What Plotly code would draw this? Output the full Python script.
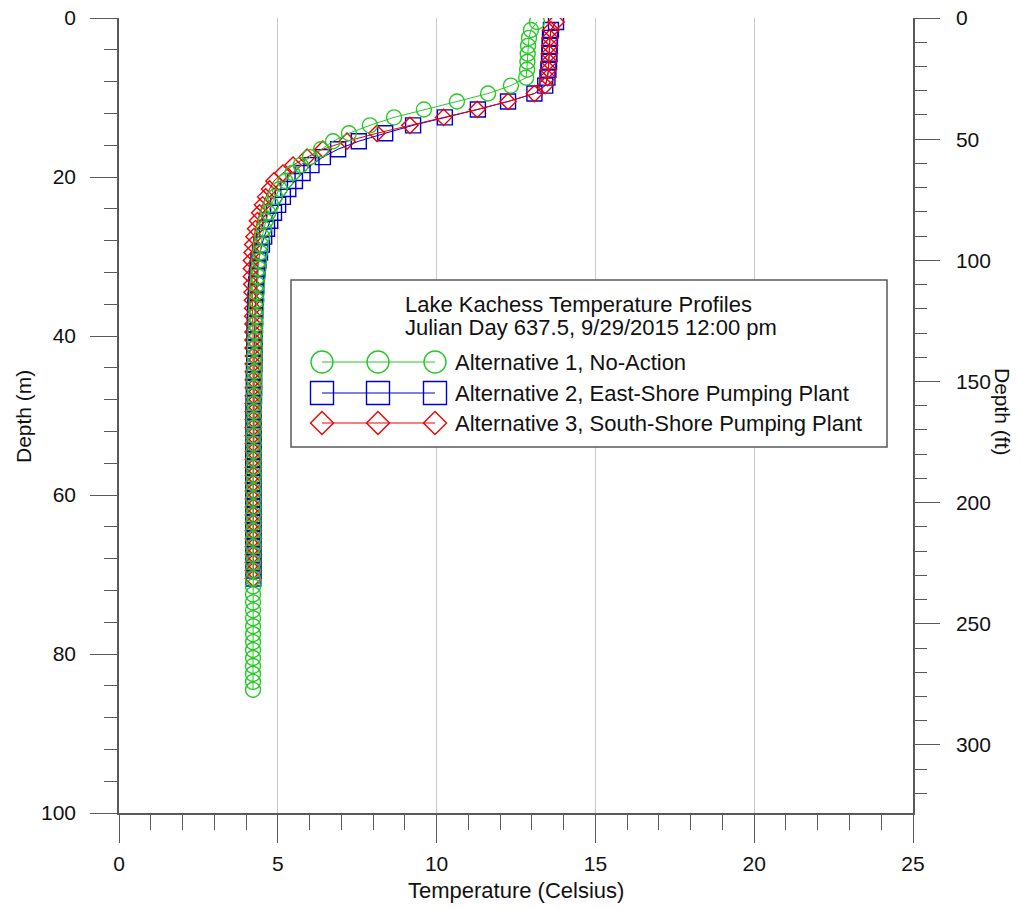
import plotly.graph_objects as go

# Depth of each model layer (m)
depth_m = [0.5, 1.5, 2.5, 3.5, 4.5, 5.5, 6.5, 7.5, 8.5, 9.5,
           10.5, 11.5, 12.5, 13.5, 14.5, 15.5, 16.5, 17.5, 18.5, 19.5,
           20.5, 21.5, 22.5, 23.5, 24.5, 25.5, 26.5, 27.5, 28.5, 29.5,
           30.5, 31.5, 32.5, 33.5, 34.5, 35.5, 36.5, 37.5, 38.5, 39.5,
           40.5, 41.5, 42.5, 43.5, 44.5, 45.5, 46.5, 47.5, 48.5, 49.5,
           50.5, 51.5, 52.5, 53.5, 54.5, 55.5, 56.5, 57.5, 58.5, 59.5,
           60.5, 61.5, 62.5, 63.5, 64.5, 65.5, 66.5, 67.5, 68.5, 69.5,
           70.5, 71.5, 72.5, 73.5, 74.5, 75.5, 76.5, 77.5, 78.5, 79.5,
           80.5, 81.5, 82.5, 83.5, 84.5]

# Alternative 1, No-Action (deg C)
temp_alt1 = [13.16, 12.97, 12.91, 12.88, 12.87, 12.86, 12.85, 12.82, 12.34, 11.62,
             10.64, 9.60, 8.66, 7.90, 7.24, 6.74, 6.36, 6.01, 5.72, 5.46,
             5.24, 5.06, 4.91, 4.79, 4.70, 4.62, 4.56, 4.51, 4.47, 4.44,
             4.41, 4.39, 4.37, 4.35, 4.34, 4.33, 4.32, 4.31, 4.30, 4.29,
             4.28, 4.28, 4.27, 4.27, 4.26, 4.26, 4.26, 4.25, 4.25, 4.25,
             4.25, 4.25, 4.24, 4.24, 4.24, 4.24, 4.24, 4.24, 4.23, 4.23,
             4.23, 4.23, 4.23, 4.23, 4.23, 4.23, 4.23, 4.22, 4.22, 4.22,
             4.22, 4.22, 4.22, 4.22, 4.22, 4.22, 4.22, 4.22, 4.22, 4.22,
             4.22, 4.22, 4.22, 4.22, 4.22]

# Alternative 2, East-Shore Pumping Plant (deg C)
temp_alt2 = [13.76, 13.60, 13.57, 13.56, 13.55, 13.54, 13.52, 13.49, 13.42, 13.08,
             12.25, 11.30, 10.26, 9.26, 8.38, 7.55, 6.90, 6.42, 6.06, 5.78,
             5.54, 5.33, 5.16, 5.01, 4.88, 4.76, 4.66, 4.57, 4.50, 4.44,
             4.39, 4.36, 4.34, 4.32, 4.31, 4.30, 4.29, 4.28, 4.28, 4.27,
             4.27, 4.26, 4.26, 4.26, 4.25, 4.25, 4.25, 4.25, 4.24, 4.24,
             4.24, 4.24, 4.24, 4.24, 4.23, 4.23, 4.23, 4.23, 4.23, 4.23,
             4.23, 4.23, 4.23, 4.23, 4.23, 4.23, 4.23, 4.23, 4.23, 4.23,
             4.23]

# Alternative 3, South-Shore Pumping Plant (deg C)
temp_alt3 = [13.76, 13.60, 13.57, 13.56, 13.55, 13.54, 13.52, 13.49, 13.42, 13.08,
             12.25, 11.28, 10.22, 9.16, 8.12, 7.18, 6.42, 5.92, 5.48, 5.16,
             4.88, 4.74, 4.62, 4.52, 4.43, 4.36, 4.30, 4.25, 4.21, 4.19,
             4.17, 4.17, 4.17, 4.18, 4.19, 4.20, 4.21, 4.21, 4.22, 4.22,
             4.22, 4.22, 4.23, 4.23, 4.23, 4.23, 4.23, 4.23, 4.23, 4.23,
             4.23, 4.23, 4.23, 4.23, 4.23, 4.23, 4.23, 4.23, 4.23, 4.23,
             4.23, 4.23, 4.23, 4.23, 4.23, 4.23, 4.23, 4.23, 4.23, 4.23,
             4.23]

series_names = ["Alternative 1, No-Action",
                "Alternative 2, East-Shore Pumping Plant",
                "Alternative 3, South-Shore Pumping Plant"]
legend_title = ["Lake Kachess Temperature Profiles",
                "Julian Day 637.5, 9/29/2015 12:00 pm"]

M_TO_FT = 1 / 0.3048
X_RANGE = [0, 25]
Y_RANGE = [100, 0]
FONT = "Liberation Sans, Arial, sans-serif"
AXIS_COLOR = "#5a5a5a"
TEXT_COLOR = "#111111"
GREEN = "rgb(40,200,40)"
BLUE = "rgb(0,0,210)"
RED = "rgb(240,0,0)"

# figure geometry (pixels)
W, H = 1021, 909
PL, PR, PT, PB = 119, 913, 18, 813


def paper_x(px):
    return (px - PL) / (PR - PL)


def paper_y(py):
    return (PB - py) / (PB - PT)


def data_x(px):
    return X_RANGE[0] + paper_x(px) * (X_RANGE[1] - X_RANGE[0])


def data_y(py):
    return Y_RANGE[0] + paper_y(py) * (Y_RANGE[1] - Y_RANGE[0])


fig = go.Figure()

# temperature profiles
styles = [
    (temp_alt2, BLUE, "square-open", 15, series_names[1]),
    (temp_alt3, RED, "diamond-open", 12.5, series_names[2]),
    (temp_alt1, GREEN, "circle-open", 15, series_names[0]),
]
for temps, color, symbol, size, name in styles:
    fig.add_trace(go.Scatter(
        x=temps, y=depth_m[:len(temps)], mode="lines+markers", name=name,
        line=dict(color=color, width=1),
        marker=dict(symbol=symbol, size=size, color=color,
                    line=dict(color=color, width=1.4)),
        showlegend=False, xaxis="x", yaxis="y"))

# empty trace so the feet axis is drawn
fig.add_trace(go.Scatter(x=[None], y=[None], xaxis="x", yaxis="y2",
                         showlegend=False, hoverinfo="skip"))

# legend block: sample glyphs on a pixel-scaled overlay axis pair
row_y = [362, 393, 423]
sample_x = [322, 378, 435]
legend_styles = [(GREEN, "circle-open", 22),
                 (BLUE, "square-open", 23),
                 (RED, "diamond-open", 17.7)]
for (color, symbol, size), yy in zip(legend_styles, row_y):
    fig.add_trace(go.Scatter(
        x=sample_x, y=[yy] * len(sample_x), mode="lines+markers",
        line=dict(color=color, width=1),
        marker=dict(symbol=symbol, size=size, color=color,
                    line=dict(color=color, width=1.4)),
        showlegend=False, hoverinfo="skip", xaxis="x3", yaxis="y3"))

# legend frame, above the gridlines but below the glyphs
fig.add_shape(type="rect", xref="x", yref="y",
              x0=data_x(291), x1=data_x(887), y0=data_y(280), y1=data_y(447),
              line=dict(color=AXIS_COLOR, width=1.5), fillcolor="white",
              layer="between")

annotations = []
for text, yy in zip(legend_title, [304, 327]):
    annotations.append(dict(text=text, xref="paper", yref="paper",
                            x=paper_x(403), y=paper_y(yy),
                            xanchor="left", yanchor="middle", showarrow=False,
                            font=dict(family=FONT, size=22, color=TEXT_COLOR)))
for text, yy in zip(series_names, row_y):
    annotations.append(dict(text=text, xref="paper", yref="paper",
                            x=paper_x(453), y=paper_y(yy),
                            xanchor="left", yanchor="middle", showarrow=False,
                            font=dict(family=FONT, size=22, color=TEXT_COLOR)))

# axis titles
annotations.append(dict(text="Depth (m)", xref="paper", yref="paper",
                        x=paper_x(23), y=paper_y(417), textangle=-90,
                        showarrow=False, xanchor="center", yanchor="middle",
                        font=dict(family=FONT, size=21, color=TEXT_COLOR)))
annotations.append(dict(text="Depth (ft)", xref="paper", yref="paper",
                        x=paper_x(1003), y=paper_y(412), textangle=90,
                        showarrow=False, xanchor="center", yanchor="middle",
                        font=dict(family=FONT, size=21, color=TEXT_COLOR)))
annotations.append(dict(text="Temperature (Celsius)", xref="paper", yref="paper",
                        x=paper_x(516), y=paper_y(890),
                        showarrow=False, xanchor="center", yanchor="middle",
                        font=dict(family=FONT, size=22, color=TEXT_COLOR)))

tick_font = dict(family=FONT, size=21, color=TEXT_COLOR)

fig.update_layout(
    width=W, height=H,
    margin=dict(l=PL, r=W - PR, t=PT, b=H - PB, pad=0, autoexpand=False),
    paper_bgcolor="white", plot_bgcolor="white",
    showlegend=False,
    annotations=annotations,
    xaxis=dict(range=X_RANGE, dtick=5, tick0=0, ticks="outside", ticklen=28,
               tickwidth=1.3, tickcolor=AXIS_COLOR, showline=True,
               linecolor=AXIS_COLOR, linewidth=1.5, showgrid=True,
               gridcolor="#c9c9c9", gridwidth=1, zeroline=False,
               tickfont=tick_font, ticklabelstandoff=3, automargin=False,
               minor=dict(dtick=1, tick0=0, ticks="outside", ticklen=15,
                          tickwidth=1.3, tickcolor=AXIS_COLOR, showgrid=False)),
    yaxis=dict(range=Y_RANGE, dtick=20, tick0=0, ticks="outside", ticklen=27,
               tickwidth=1.3, tickcolor=AXIS_COLOR, showline=True,
               linecolor=AXIS_COLOR, linewidth=1.5, showgrid=False,
               zeroline=False, tickfont=tick_font, ticklabelstandoff=10,
               automargin=False,
               minor=dict(dtick=4, tick0=0, ticks="outside", ticklen=13,
                          tickwidth=1.3, tickcolor=AXIS_COLOR, showgrid=False)),
    yaxis2=dict(range=[Y_RANGE[0] * M_TO_FT, Y_RANGE[1] * M_TO_FT],
                overlaying="y", side="right",
                anchor="x", dtick=50, tick0=0, ticks="outside", ticklen=25,
                tickwidth=1.3, tickcolor=AXIS_COLOR, showline=True,
                linecolor=AXIS_COLOR, linewidth=1.5, showgrid=False,
                zeroline=False, tickfont=tick_font, ticklabelstandoff=12,
                automargin=False,
                minor=dict(dtick=10, tick0=0, ticks="outside", ticklen=12,
                           tickwidth=1.3, tickcolor=AXIS_COLOR, showgrid=False)),
    xaxis3=dict(range=[PL, PR], overlaying="x", visible=False, fixedrange=True,
                automargin=False),
    yaxis3=dict(range=[PB, PT], overlaying="y", anchor="x3", visible=False,
                fixedrange=True, automargin=False),
)

fig.write_html("out.html")
